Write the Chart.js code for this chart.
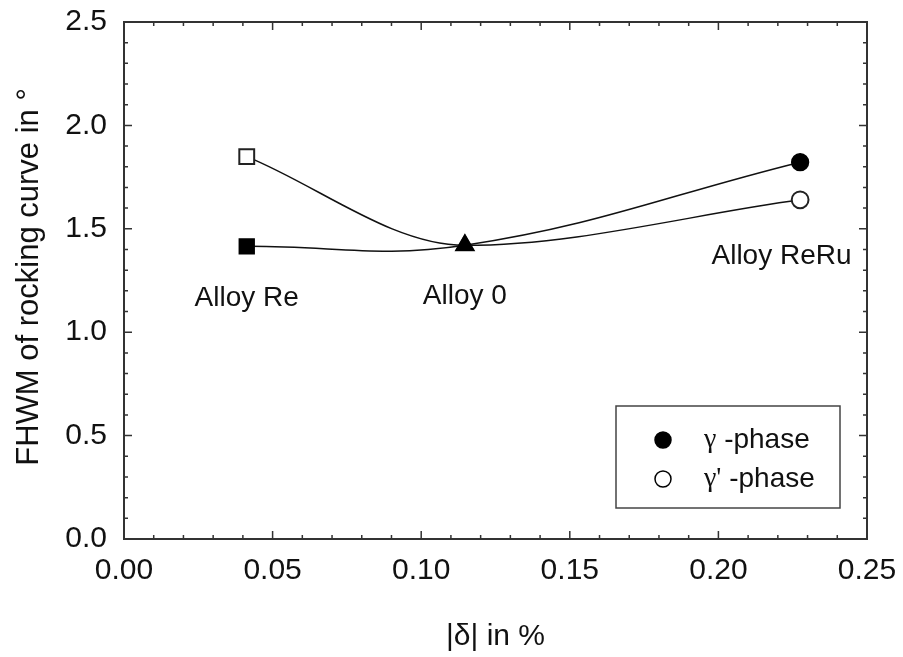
<!DOCTYPE html>
<html><head><meta charset="utf-8">
<script src="https://cdn.jsdelivr.net/npm/chart.js@4"></script>
<style>html,body{margin:0;padding:0;background:#fff}#wrap{width:903px;height:657px}</style>
</head><body><div id="wrap"><canvas id="c" width="903" height="657"></canvas></div>
<script>
// ---- data ----
const xValues = [0.0413, 0.1147, 0.2275];          // |delta| in %
const gammaValues = [1.415, 1.420, 1.822];         // gamma-phase FWHM
const gammaPrimeValues = [1.849, 1.420, 1.640];    // gamma'-phase FWHM
const alloyLabels = ['Alloy Re', 'Alloy 0', 'Alloy ReRu'];
const seriesNames = ['\u03b3', "\u03b3'"];
const seriesSuffix = ' -phase';
const xTickValues = [0, 0.05, 0.10, 0.15, 0.20, 0.25];
const yTickValues = [0, 0.5, 1.0, 1.5, 2.0, 2.5];
const xTitle = '|\u03b4| in %';
const yTitle = 'FHWM of rocking curve in \u00b0';

const SANS = '"Liberation Sans", Arial, Helvetica, sans-serif';
const SERIF = '"Liberation Serif", "Times New Roman", serif';
const INK = '#111';

const framePlugin = {
  id: 'frame',
  afterDatasetsDraw(chart) {
    const {ctx, chartArea: a, scales: {x, y}} = chart;
    ctx.save();
    ctx.strokeStyle = '#333';
    ctx.lineWidth = 1.5;
    // minor & major ticks, inward on all four sides
    for (let i = 0; i <= 25; i++) {
      const px = x.getPixelForValue(i / 100);
      const len = (i % 5 === 0) ? 8 : 4;
      ctx.beginPath();
      ctx.moveTo(px, a.bottom); ctx.lineTo(px, a.bottom - len);
      ctx.moveTo(px, a.top); ctx.lineTo(px, a.top + len);
      ctx.stroke();
    }
    for (let i = 0; i <= 25; i++) {
      const py = y.getPixelForValue(i / 10);
      const len = (i % 5 === 0) ? 8 : 4;
      ctx.beginPath();
      ctx.moveTo(a.left, py); ctx.lineTo(a.left + len, py);
      ctx.moveTo(a.right, py); ctx.lineTo(a.right - len, py);
      ctx.stroke();
    }
    ctx.lineWidth = 2;
    ctx.strokeRect(a.left, a.top, a.right - a.left, a.bottom - a.top);

    // y axis title
    ctx.save();
    ctx.translate(29, 277);
    ctx.rotate(-Math.PI / 2);
    ctx.fillStyle = INK;
    ctx.font = '31px ' + SANS;
    ctx.textAlign = 'center';
    ctx.textBaseline = 'middle';
    ctx.fillText(yTitle, 0, 0);
    ctx.restore();

    // alloy annotations
    ctx.fillStyle = INK;
    ctx.font = '28px ' + SANS;
    ctx.textBaseline = 'alphabetic';
    const anchors = [
      {x: xValues[0], y: 1.129, align: 'center'},
      {x: xValues[1], y: 1.134, align: 'center'},
      {x: 0.2448, y: 1.33, align: 'right'}
    ];
    anchors.forEach((p, i) => {
      ctx.textAlign = p.align;
      ctx.fillText(alloyLabels[i], x.getPixelForValue(p.x), y.getPixelForValue(p.y));
    });

    // legend box
    const lx = 616, ly = 406, lw = 224, lh = 102;
    ctx.lineWidth = 1.5;
    ctx.strokeStyle = '#444';
    ctx.strokeRect(lx, ly, lw, lh);
    const rows = [ly + 34, ly + 73];
    const fills = ['#000', '#fff'];
    rows.forEach((ry, i) => {
      ctx.beginPath();
      ctx.arc(lx + 47, ry, 8, 0, Math.PI * 2);
      ctx.fillStyle = fills[i];
      ctx.fill();
      ctx.lineWidth = 1.5;
      ctx.strokeStyle = '#000';
      ctx.stroke();
      ctx.fillStyle = INK;
      ctx.textAlign = 'left';
      ctx.textBaseline = 'middle';
      ctx.font = '28px ' + SERIF;
      ctx.fillText(seriesNames[i], lx + 88, ry);
      const w = ctx.measureText(seriesNames[i]).width;
      ctx.font = '28px ' + SANS;
      ctx.fillText(seriesSuffix, lx + 88 + w, ry);
    });
    ctx.restore();
  }
};

new Chart(document.getElementById('c'), {
  type: 'line',
  data: {
    datasets: [
      {
        label: seriesNames[0] + seriesSuffix,
        data: xValues.map((v, i) => ({x: v, y: gammaValues[i]})),
        borderColor: INK,
        borderWidth: 1.5,
        tension: 0.4,
        pointStyle: ['rect', 'triangle', 'circle'],
        pointRadius: [10.5, 10, 8.4],
        pointBackgroundColor: '#000',
        pointBorderColor: '#000',
        pointBorderWidth: 1.5
      },
      {
        label: seriesNames[1] + seriesSuffix,
        data: xValues.map((v, i) => ({x: v, y: gammaPrimeValues[i]})),
        borderColor: INK,
        borderWidth: 1.5,
        cubicInterpolationMode: 'monotone',
        pointStyle: ['rect', 'triangle', 'circle'],
        pointRadius: [10.5, 10, 8.4],
        pointBackgroundColor: ['#fff', '#000', '#fff'],
        pointBorderColor: '#222',
        pointBorderWidth: 2
      }
    ]
  },
  options: {
    responsive: false,
    animation: false,
    devicePixelRatio: 1,
    layout: {padding: {top: 22, right: 36, left: 0, bottom: 0}},
    plugins: {legend: {display: false}, tooltip: {enabled: false}},
    scales: {
      x: {
        type: 'linear', min: 0, max: 0.25,
        afterBuildTicks: s => { s.ticks = xTickValues.map(v => ({value: v})); },
        afterFit: s => { s.height = 118; s.paddingLeft = 0; s.paddingRight = 0; },
        grid: {display: false, drawTicks: false, tickLength: 0},
        border: {display: false},
        ticks: {font: {family: SANS, size: 30}, color: INK, padding: 14,
                maxRotation: 0, autoSkip: false, callback: v => v.toFixed(2)},
        title: {display: true, text: xTitle, font: {family: SANS, size: 30},
                color: INK, padding: {top: 0, bottom: 2}}
      },
      y: {
        type: 'linear', min: 0, max: 2.5,
        afterBuildTicks: s => { s.ticks = yTickValues.map(v => ({value: v})); },
        afterFit: s => { s.width = 124; s.paddingTop = 0; s.paddingBottom = 0; },
        grid: {display: false, drawTicks: false, tickLength: 0},
        border: {display: false},
        ticks: {font: {family: SANS, size: 30}, color: INK, padding: 17,
                autoSkip: false, callback: v => v.toFixed(1)}
      }
    }
  },
  plugins: [framePlugin]
});
</script>
</body></html>
